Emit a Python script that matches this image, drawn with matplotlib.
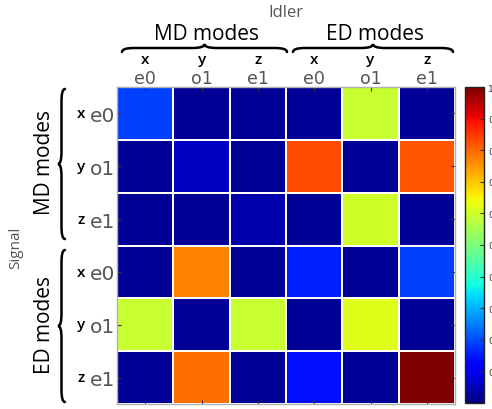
import numpy as np
import matplotlib
matplotlib.use("Agg")
import matplotlib.pyplot as plt
import matplotlib.transforms as mtrans
from matplotlib.path import Path
from matplotlib.patches import PathPatch

# ---------------- data ----------------
idler_labels = ["e0", "o1", "e1", "e0", "o1", "e1"]
signal_labels = ["e0", "o1", "e1", "e0", "o1", "e1"]
axis_letters = ["x", "y", "z", "x", "y", "z"]
group_labels = ["MD modes", "ED modes"]
row_md_x = [0.19, 0.02, 0.02, 0.02, 0.59, 0.02]
row_md_y = [0.02, 0.06, 0.02, 0.83, 0.02, 0.82]
row_md_z = [0.02, 0.02, 0.04, 0.02, 0.60, 0.02]
row_ed_x = [0.02, 0.77, 0.02, 0.16, 0.02, 0.19]
row_ed_y = [0.59, 0.02, 0.59, 0.02, 0.62, 0.02]
row_ed_z = [0.02, 0.79, 0.02, 0.14, 0.02, 1.00]
cbar_ticks = [0.1, 0.2, 0.3, 0.4, 0.5, 0.6, 0.7, 0.8, 0.9, 1.0]
cbar_ticklabels = ["0.1", "0.2", "0.3", "0.4", "0.5", "0.6", "0.7", "0.8", "0.9", "1"]

Z = np.array([row_md_x, row_md_y, row_md_z, row_ed_x, row_ed_y, row_ed_z])

W, H = 492, 410
fig = plt.figure(figsize=(W / 100, H / 100), dpi=100)

def fx(px):
    return px / W

def fy(py):
    return 1 - py / H

ax = fig.add_axes([fx(117), fy(405), fx(455) - fx(117), fy(88) - fy(405)])
mesh = ax.pcolormesh(np.arange(7) - 0.5, np.arange(7) - 0.5, Z, cmap="jet",
                     vmin=0, vmax=1, edgecolors="white", linewidth=1.3)
ax.set_xlim(-0.5, 5.5)
ax.set_ylim(5.5, -0.5)
for s in ax.spines.values():
    s.set_color("#b0b0b0")
    s.set_linewidth(1.0)

lab_font = ["Liberation Sans Narrow", "DejaVu Sans"]
ax.xaxis.tick_top()
ax.set_xticks(range(6))
ax.set_xticklabels(idler_labels, fontsize=12.5, color="#555555", family=lab_font)
ax.set_yticks(range(6))
ax.set_yticklabels(signal_labels, fontsize=14.5, color="#555555", family=lab_font)
ax.tick_params(axis="both", which="both", direction="in", length=3, width=0.8,
               color="#333333", top=True, bottom=True, left=True, right=True,
               labeltop=True, labelbottom=False, labelleft=True, labelright=False)
ax.tick_params(axis="x", pad=0)
ax.tick_params(axis="y", pad=1.0)

# colorbar
cax = fig.add_axes([fx(465), fy(404), fx(484) - fx(465), fy(88) - fy(404)])
cb = fig.colorbar(mesh, cax=cax)
cb.set_ticks(cbar_ticks)
cb.set_ticklabels(cbar_ticklabels)
cb.outline.set_linewidth(1.0)
cb.outline.set_edgecolor("#222222")
cax.tick_params(direction="in", length=3, width=0.8, labelsize=6.5, pad=3,
                color="#333333", labelcolor="#333333")

# ---------------- braces ----------------
def brace(A, B, n, h, lw=1.8):
    A = np.array(A, float)
    B = np.array(B, float)
    n = np.array(n, float)
    L = np.linalg.norm(B - A)
    t = (B - A) / L
    r = min(12.0, L / 6)
    m = L / 2
    loc = [(0, 0), (0, h / 2), (r, h / 2), (m - r, h / 2), (m, h / 2), (m, h),
           (m, h / 2), (m + r, h / 2), (L - r, h / 2), (L, h / 2), (L, 0)]
    codes = [Path.MOVETO, Path.CURVE3, Path.CURVE3, Path.LINETO, Path.CURVE3,
             Path.CURVE3, Path.CURVE3, Path.CURVE3, Path.LINETO, Path.CURVE3,
             Path.CURVE3]
    pts = []
    for u, v in loc:
        p = A + u * t + v * n
        pts.append((fx(p[0]), fy(p[1])))
    patch = PathPatch(Path(pts, codes), fill=False, lw=lw, color="black",
                      transform=fig.transFigure, capstyle="round")
    fig.patches.append(patch)

brace((122, 53), (287, 53), (0, -1), 8)
brace((293, 53), (453, 53), (0, -1), 8)
brace((65, 90), (65, 240), (-1, 0), 7)
brace((65, 251), (65, 403), (-1, 0), 7)

# ---------------- texts ----------------
grp_font = ["Open Sans", "DejaVu Sans"]
fig.text(fx(286), fy(13), "Idler", fontsize=12, color="#555555",
         ha="center", va="center", family=grp_font)
fig.text(fx(206), fy(35), group_labels[0], fontsize=15, color="black",
         ha="center", va="center", family=grp_font)
fig.text(fx(375), fy(35), group_labels[1], fontsize=15, color="black",
         ha="center", va="center", family=grp_font)
fig.text(fx(16), fy(248), "Signal", fontsize=11, color="#555555", rotation=90,
         ha="center", va="center", family=grp_font)
fig.text(fx(44), fy(163), group_labels[0], fontsize=15, color="black", rotation=90,
         ha="center", va="center", family=grp_font)
fig.text(fx(44), fy(325), group_labels[1], fontsize=15, color="black", rotation=90,
         ha="center", va="center", family=grp_font)

top_tr = mtrans.blended_transform_factory(ax.transData, fig.transFigure)
left_tr = mtrans.blended_transform_factory(fig.transFigure, ax.transData)
for i, letter in enumerate(axis_letters):
    ax.text(i, fy(64), letter, fontsize=11, color="black", ha="center",
            va="baseline", transform=top_tr, family=grp_font,
            fontweight="semibold", clip_on=False)
    ax.text(fx(81), i + 0.07, letter, fontsize=11, color="black", ha="center",
            va="baseline", transform=left_tr, family=grp_font,
            fontweight="semibold", clip_on=False)

fig.savefig("out.png", dpi=100)
